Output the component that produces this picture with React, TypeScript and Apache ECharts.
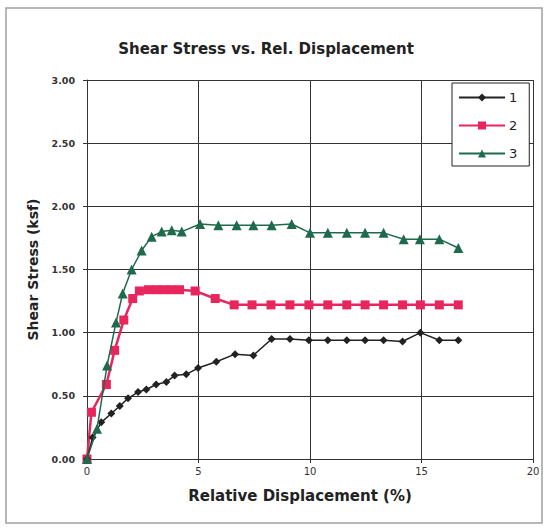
import React, { useEffect, useRef } from "react";
import * as echarts from "echarts";

const seriesNames = ["1", "2", "3"];

const disp1 = [0, 0.25, 0.64, 1.09, 1.47, 1.84, 2.29, 2.66, 3.1, 3.56, 3.93, 4.45, 4.98, 5.8, 6.64, 7.46, 8.28, 9.1, 9.95, 10.8, 11.65, 12.47, 13.3, 14.15, 14.95, 15.8, 16.65];
const stress1 = [0, 0.17, 0.29, 0.36, 0.42, 0.48, 0.53, 0.55, 0.59, 0.61, 0.66, 0.67, 0.72, 0.77, 0.83, 0.82, 0.95, 0.95, 0.94, 0.94, 0.94, 0.94, 0.94, 0.93, 1.0, 0.94, 0.94];

const disp2 = [0, 0.2, 0.87, 1.24, 1.65, 2.05, 2.35, 2.75, 3.1, 3.45, 3.8, 4.15, 4.85, 5.75, 6.6, 7.4, 8.25, 9.1, 9.95, 10.8, 11.65, 12.47, 13.3, 14.15, 14.95, 15.8, 16.65];
const stress2 = [0, 0.37, 0.59, 0.86, 1.1, 1.27, 1.33, 1.34, 1.34, 1.34, 1.34, 1.34, 1.33, 1.27, 1.22, 1.22, 1.22, 1.22, 1.22, 1.22, 1.22, 1.22, 1.22, 1.22, 1.22, 1.22, 1.22];

const disp3 = [0, 0.45, 0.9, 1.3, 1.6, 2.0, 2.45, 2.9, 3.35, 3.8, 4.25, 5.07, 5.89, 6.71, 7.46, 8.28, 9.18, 10.0, 10.8, 11.65, 12.47, 13.3, 14.2, 14.93, 15.8, 16.65];
const stress3 = [0, 0.24, 0.74, 1.08, 1.31, 1.5, 1.65, 1.76, 1.8, 1.81, 1.8, 1.86, 1.85, 1.85, 1.85, 1.85, 1.86, 1.79, 1.79, 1.79, 1.79, 1.79, 1.74, 1.74, 1.74, 1.67];

const xTicks = [0, 5, 10, 15, 20];
const yTicks = [0, 0.5, 1.0, 1.5, 2.0, 2.5, 3.0];

const pair = (xs: number[], ys: number[]) => xs.map((x, i) => [x, ys[i]]);

export default function App() {
  const ref = useRef<HTMLDivElement>(null);
  useEffect(() => {
    if (!ref.current) return;
    const chart = echarts.init(ref.current, null, { renderer: "svg" });
    const font = "DejaVu Sans, Liberation Sans, Arial, sans-serif";
    chart.setOption({
      animation: false,
      backgroundColor: "#ffffff",
      textStyle: { fontFamily: font },
      title: {
        text: "Shear Stress vs. Rel. Displacement",
        left: 261,
        top: 36,
        textAlign: "center",
        textStyle: { fontSize: 15, fontWeight: "bold", color: "#222", fontFamily: font },
      },
      graphic: [
        {
          type: "rect",
          shape: { x: 6, y: 8, width: 536, height: 515 },
          style: { fill: "none", stroke: "#a0a0a0", lineWidth: 1.5 },
          silent: true,
        },
        {
          type: "text",
          x: 300,
          y: 496,
          style: {
            text: "Relative Displacement (%)",
            fontSize: 15,
            fontWeight: "bold",
            fontFamily: font,
            fill: "#222",
            align: "center",
            verticalAlign: "middle",
          },
          silent: true,
        },
      ],
      legend: {
        orient: "vertical",
        left: 452,
        top: 83,
        padding: [8, 12, 6, 6],
        itemWidth: 46,
        itemHeight: 10,
        itemGap: 15,
        borderColor: "#222",
        borderWidth: 1,
        backgroundColor: "#fff",
        textStyle: { fontSize: 13, color: "#222", fontFamily: font, padding: [0, 0, 0, -1] },
        data: seriesNames,
      },
      grid: { left: 87, right: 16, top: 80, bottom: 70, containLabel: false },
      xAxis: {
        type: "value",
        min: 0,
        max: 20,
        interval: 5,
        axisLine: { show: true, lineStyle: { color: "#333", width: 1 } },
        axisTick: { show: true, length: 4, lineStyle: { color: "#333" } },
        axisLabel: {
          fontSize: 10,
          color: "#333",
          margin: 7,
          formatter: (v: number) => (xTicks.includes(v) ? String(v) : ""),
        },
        splitLine: { show: true, lineStyle: { color: "#333", width: 1 } },
      },
      yAxis: {
        type: "value",
        min: 0,
        max: 3,
        interval: 0.5,
        name: "Shear Stress (ksf)",
        nameLocation: "middle",
        nameGap: 47,
        nameRotate: 90,
        nameTextStyle: { fontSize: 14, fontWeight: "bold", color: "#222", fontFamily: font },
        axisLine: { show: true, lineStyle: { color: "#333", width: 1 } },
        axisTick: { show: true, length: 4, lineStyle: { color: "#333" } },
        axisLabel: {
          fontSize: 9.5,
          fontWeight: "bold",
          color: "#333",
          margin: 12,
          formatter: (v: number) => (yTicks.includes(v) ? v.toFixed(2) : ""),
        },
        splitLine: { show: true, lineStyle: { color: "#333", width: 1 } },
      },
      series: [
        {
          name: "1",
          type: "line",
          data: pair(disp1, stress1),
          symbol: "diamond",
          symbolSize: 8,
          lineStyle: { color: "#222", width: 1.5 },
          itemStyle: { color: "#222" },
          z: 3,
        },
        {
          name: "2",
          type: "line",
          data: pair(disp2, stress2),
          symbol: "rect",
          symbolSize: 9,
          lineStyle: { color: "#e8265e", width: 2.5 },
          itemStyle: { color: "#e8265e" },
          z: 2,
        },
        {
          name: "3",
          type: "line",
          data: pair(disp3, stress3),
          symbol: "triangle",
          symbolSize: 10,
          lineStyle: { color: "#1f6a4c", width: 1.5 },
          itemStyle: { color: "#1f6a4c" },
          z: 4,
        },
      ],
    });
    return () => chart.dispose();
  }, []);
  return (
    <div
      ref={ref}
      style={{ position: "fixed", left: 0, top: 0, width: 549, height: 529 }}
    />
  );
}
